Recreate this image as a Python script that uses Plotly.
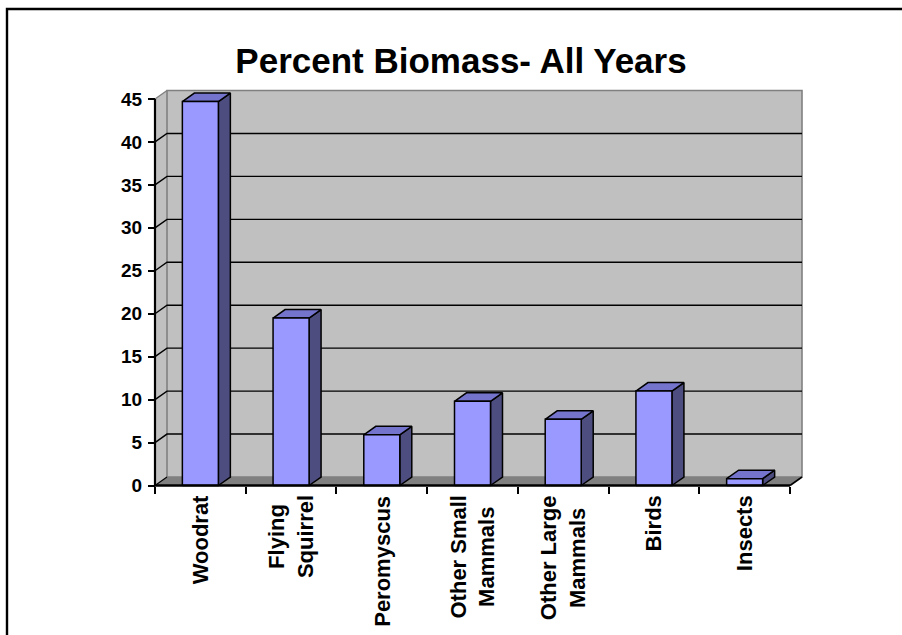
import plotly.graph_objects as go

# ---- data -------------------------------------------------------------
categories = ["Woodrat", "Flying<br>Squirrel", "Peromyscus", "Other Small<br>Mammals",
              "Other Large<br>Mammals", "Birds", "Insects"]
percent_biomass = [44.7, 19.5, 5.9, 9.8, 7.7, 11.0, 0.8]
y_ticks = [0, 5, 10, 15, 20, 25, 30, 35, 40, 45]
y_max = 45
title_text = "Percent Biomass- All Years"

# ---- geometry of the pseudo-3D frame -------------------------------------
W, H = 902, 635
X0_PX, XN_PX = 155, 790          # pixel x of category edge 0 and edge N
Y0_PX, YMAX_PX = 485.5, 99.0     # pixel y of value 0 and value y_max
DEPTH_X_PX, DEPTH_Y_PX = 12, 8.5 # oblique depth offset in pixels
n = len(categories)
ux = (XN_PX - X0_PX) / n
uy = (Y0_PX - YMAX_PX) / y_max
DX = DEPTH_X_PX / ux
DY = DEPTH_Y_PX / uy
HALF = 18 / ux                   # half width of a column front face

L, R, T, B = 146, 90, 82, 146
plot_w, plot_h = W - L - R, H - T - B
x_lo = -(X0_PX - L) / ux
x_hi = x_lo + plot_w / ux
y_lo = -((H - B) - Y0_PX) / uy
y_hi = y_lo + plot_h / uy

FONT = "Liberation Sans, Arial, sans-serif"
WALL = "#C0C0C0"
FLOOR = "#808080"
EDGE = "#808080"
FRONT = "#9999FF"
TOP = "#7474CC"
SIDE = "#4D4D80"

fig = go.Figure()


def poly(xs, ys, fill, line_color, line_w):
    fig.add_trace(go.Scatter(
        x=list(xs) + [xs[0]], y=list(ys) + [ys[0]], mode="lines",
        fill="toself", fillcolor=fill,
        line=dict(color=line_color, width=line_w),
        hoverinfo="skip", showlegend=False))


def seg(xs, ys, color, width):
    fig.add_trace(go.Scatter(
        x=xs, y=ys, mode="lines", line=dict(color=color, width=width),
        hoverinfo="skip", showlegend=False))


# side wall, back wall and floor
poly([0, DX, DX, 0], [0, DY, y_max + DY, y_max], WALL, WALL, 0.1)
poly([DX, n + DX, n + DX, DX], [DY, DY, y_max + DY, y_max + DY], WALL, EDGE, 1.6)
seg([0, DX], [y_max, y_max + DY], EDGE, 1.4)
poly([0, n, n + DX, DX], [0, 0, DY, DY], FLOOR, FLOOR, 0.1)

# gridlines: oblique on the side wall, horizontal across the back wall
for v in y_ticks:
    if v == y_max:
        continue
    if v == 0:
        seg([0, DX], [0, DY], "black", 1.1)
    else:
        seg([0, DX, n + DX], [v, v + DY, v + DY], "black", 1.4)

# right edge of the floor
seg([n, n + DX], [0, DY], "black", 1.6)

# columns: front, top and side faces
for i, v in enumerate(percent_biomass):
    c = i + 0.5
    xl, xr = c - HALF, c + HALF
    poly([xr, xr + DX, xr + DX, xr], [0, DY, v + DY, v], SIDE, "black", 1.5)
    poly([xl, xr, xr + DX, xl + DX], [v, v, v + DY, v + DY], TOP, "black", 1.5)
    poly([xl, xr, xr, xl], [0, 0, v, v], FRONT, "black", 1.5)

# front axis lines
seg([0, 0], [0, y_max], "black", 2.2)
seg([0, n], [0, 0], "black", 2.6)

# category labels, rotated and centred under each column
for i, name in enumerate(categories):
    fig.add_annotation(
        x=i + 0.5, y=0, xref="x", yref="y", text=name, showarrow=False,
        textangle=-90, align="center", xanchor="center", yanchor="top",
        yshift=-8, font=dict(family=FONT, size=22, color="black", weight="bold"))

# outer chart border
def px_to_paper_x(px):
    return (px - L) / plot_w


def px_to_paper_y(py):
    return ((H - B) - py) / plot_h


fig.add_shape(type="rect", xref="paper", yref="paper",
              x0=px_to_paper_x(7), x1=px_to_paper_x(W + 10),
              y0=px_to_paper_y(H + 10), y1=px_to_paper_y(9),
              line=dict(color="black", width=2.4), fillcolor="rgba(0,0,0,0)",
              layer="above")

fig.update_layout(
    width=W, height=H, autosize=False,
    margin=dict(l=L, r=R, t=T, b=B, pad=0),
    paper_bgcolor="white", plot_bgcolor="white",
    title=dict(text=title_text, x=461 / W, xref="container", xanchor="center",
               y=1 - 61 / H, yref="container", yanchor="middle",
               font=dict(family=FONT, size=35, color="black", weight="bold")),
    xaxis=dict(range=[x_lo, x_hi], tickvals=list(range(n + 1)),
               showticklabels=False, ticks="outside", ticklen=7, tickwidth=2,
               tickcolor="black", showgrid=False, zeroline=False, showline=False,
               anchor="free", position=px_to_paper_y(Y0_PX), fixedrange=True),
    yaxis=dict(range=[y_lo, y_hi], tickvals=y_ticks, ticks="outside", ticklen=7,
               tickwidth=2, tickcolor="black", showgrid=False, zeroline=False,
               showline=False, anchor="free", position=px_to_paper_x(X0_PX),
               ticklabelstandoff=2,
               tickfont=dict(family=FONT, size=19, color="black", weight="bold"),
               fixedrange=True),
    showlegend=False,
)

fig.write_html("out.html")
